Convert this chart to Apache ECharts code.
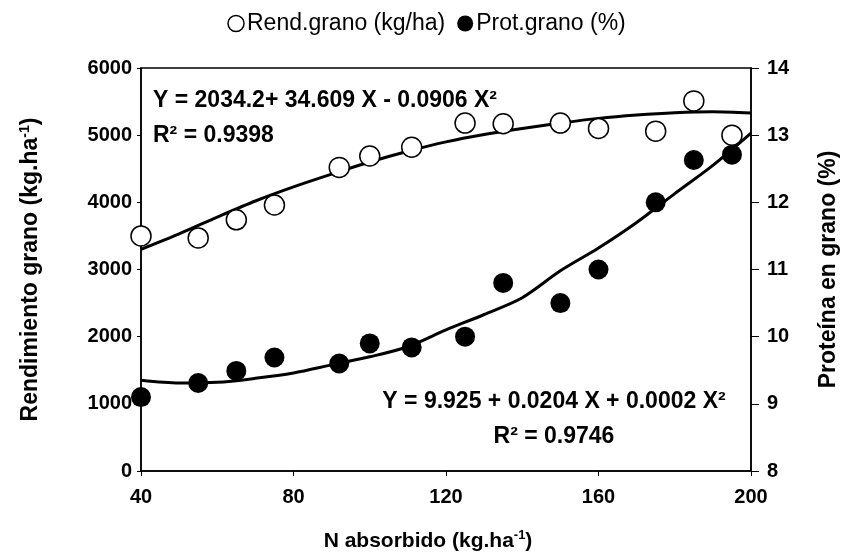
<!DOCTYPE html>
<html>
<head>
<meta charset="utf-8">
<script src="https://cdn.jsdelivr.net/npm/echarts@6/dist/echarts.min.js"></script>
<style>
html,body{margin:0;padding:0;background:#fff;}
#chart{width:853px;height:560px;}
</style>
</head>
<body>
<div id="chart"></div>
<script>
var nAbsorbido = [40, 55, 65, 75, 92, 100, 111, 125, 135, 150, 160, 175, 185, 195];
var rendGrano = [3500, 3470, 3740, 3960, 4520, 4690, 4820, 5180, 5170, 5180, 5100, 5060, 5510, 5000];
var protGrano = [9.10, 9.31, 9.49, 9.69, 9.60, 9.90, 9.84, 10.0, 10.8, 10.5, 11.0, 12.0, 12.63, 12.71];

// Fitted curves as drawn in the picture
var trendX = [40, 50, 60, 70, 80, 90, 100, 110, 120, 130, 140, 150, 160, 170, 180, 190, 200];
var rendTrend = [3300, 3530, 3780, 4020, 4230, 4420, 4600, 4760, 4900, 5010, 5100, 5180, 5250, 5300, 5335, 5350, 5330];
var protTrend = [9.35, 9.31, 9.32, 9.38, 9.46, 9.58, 9.70, 9.85, 10.10, 10.33, 10.58, 10.98, 11.32, 11.70, 12.13, 12.55, 13.03];

var xTicks = {min: 40, max: 200, interval: 40};
var yLeftTicks = {min: 0, max: 6000, interval: 1000};
var yRightTicks = {min: 8, max: 14, interval: 1};

var legendNames = ['Rend.grano (kg/ha)', 'Prot.grano (%)'];
var eqRend = 'Y = 2034.2+ 34.609 X - 0.0906 X²';
var r2Rend = 'R² = 0.9398';
var eqProt = 'Y = 9.925 + 0.0204 X + 0.0002 X²';
var r2Prot = 'R² = 0.9746';

function pairs(xs, ys) { return xs.map(function (x, i) { return [x, ys[i]]; }); }

var FONT = '"Liberation Sans", Arial, sans-serif';
var chart = echarts.init(document.getElementById('chart'), null, {renderer: 'canvas'});

var tickLabel = {color: '#000', fontFamily: FONT, fontWeight: 'bold', fontSize: 20,
  formatter: function (v) { return String(v); }};

function supName(main, sup, tail) {
  return '{a|' + main + '}{s|' + sup + '}{a|' + tail + '}';
}
function richName(size) {
  return {
    a: {color: '#000', fontFamily: FONT, fontWeight: 'bold', fontSize: size},
    s: {color: '#000', fontFamily: FONT, fontWeight: 'bold', fontSize: Math.round(size * 0.62), verticalAlign: 'top', padding: [0, 0, Math.round(size * 0.5), 0]}
  };
}

var option = {
  backgroundColor: '#fff',
  animation: false,
  grid: {left: 141, right: 102, top: 68, bottom: 89, show: true, borderColor: '#000', borderWidth: 1.5, backgroundColor: 'transparent'},
  legend: {
    top: 7, left: 'center', itemGap: 12, itemWidth: 16, itemHeight: 16,
    textStyle: {color: '#000', fontFamily: FONT, fontSize: 23, padding: [0, 0, 0, -2]},
    data: [
      {name: legendNames[0], icon: 'circle', itemStyle: {color: '#fff', borderColor: '#000', borderWidth: 1.5}},
      {name: legendNames[1], icon: 'circle', itemStyle: {color: '#000'}}
    ]
  },
  xAxis: {
    type: 'value', min: xTicks.min, max: xTicks.max, interval: xTicks.interval,
    axisLine: {show: true, lineStyle: {color: '#000', width: 1.5}},
    axisTick: {show: true, length: 5, lineStyle: {color: '#000', width: 1}},
    axisLabel: Object.assign({}, tickLabel, {margin: 16}),
    splitLine: {show: false},
    name: supName('N absorbido (kg.ha', '-1', ')'), nameLocation: 'middle', nameGap: 58,
    nameTextStyle: {rich: richName(21), padding: [0, 36, 0, 0]}
  },
  yAxis: [
    {
      type: 'value', min: yLeftTicks.min, max: yLeftTicks.max, interval: yLeftTicks.interval,
      position: 'left',
      axisLine: {show: true, lineStyle: {color: '#000', width: 1.5}},
      axisTick: {show: true, length: 4, lineStyle: {color: '#000', width: 1}},
      axisLabel: Object.assign({}, tickLabel, {margin: 9}),
      splitLine: {show: false},
      name: supName('Rendimiento grano (kg.ha', '-1', ')'), nameLocation: 'middle', nameGap: 97,
      nameTextStyle: {rich: richName(23)}
    },
    {
      type: 'value', min: yRightTicks.min, max: yRightTicks.max, interval: yRightTicks.interval,
      position: 'right',
      axisLine: {show: true, lineStyle: {color: '#000', width: 1.5}},
      axisTick: {show: true, length: 8, lineStyle: {color: '#000', width: 1}},
      axisLabel: Object.assign({}, tickLabel, {margin: 16}),
      splitLine: {show: false},
      name: 'Proteína en grano (%)', nameLocation: 'middle', nameGap: 66, nameRotate: 90,
      nameTextStyle: {color: '#000', fontFamily: FONT, fontWeight: 'bold', fontSize: 23}
    }
  ],
  series: [
    {
      name: legendNames[0], type: 'scatter', yAxisIndex: 0, symbol: 'circle', symbolSize: 20,
      itemStyle: {color: '#fff', borderColor: '#000', borderWidth: 1.5, opacity: 1},
      data: pairs(nAbsorbido, rendGrano), z: 3
    },
    {
      name: legendNames[1], type: 'scatter', yAxisIndex: 1, symbol: 'circle', symbolSize: 20,
      itemStyle: {color: '#000', opacity: 1},
      data: pairs(nAbsorbido, protGrano), z: 3
    },
    {
      name: 'rendTrend', type: 'line', yAxisIndex: 0, smooth: 0.3, showSymbol: false, symbol: 'none',
      lineStyle: {color: '#000', width: 3}, data: pairs(trendX, rendTrend), z: 2
    },
    {
      name: 'protTrend', type: 'line', yAxisIndex: 1, smooth: 0.3, showSymbol: false, symbol: 'none',
      lineStyle: {color: '#000', width: 3}, data: pairs(trendX, protTrend), z: 2
    }
  ],
  graphic: [
    {type: 'text', left: 153, top: 89, z: 10, style: {text: eqRend, fill: '#000', font: 'bold 23px ' + FONT}},
    {type: 'text', left: 153, top: 124, z: 10, style: {text: r2Rend, fill: '#000', font: 'bold 23px ' + FONT}},
    {type: 'text', x: 554, y: 402, z: 10, style: {text: eqProt, fill: '#000', font: 'bold 23px ' + FONT, textAlign: 'center', textVerticalAlign: 'middle'}},
    {type: 'text', x: 554, y: 437, z: 10, style: {text: r2Prot, fill: '#000', font: 'bold 23px ' + FONT, textAlign: 'center', textVerticalAlign: 'middle'}}
  ]
};
chart.setOption(option);
</script>
</body>
</html>
